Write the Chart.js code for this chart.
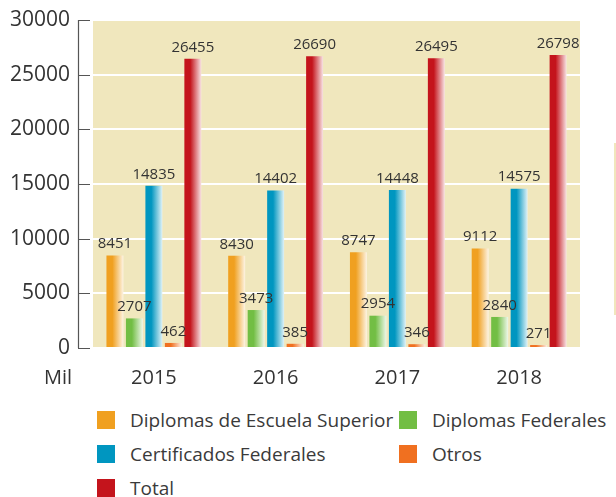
<!DOCTYPE html>
<html>
<head>
<meta charset="utf-8">
<script src="https://cdn.jsdelivr.net/npm/chart.js@4"></script>
<style>
  body { margin: 0; background: #fff; font-family: "Open Sans", sans-serif; }
  #wrap { position: relative; width: 616px; height: 497px; overflow: hidden; }
  #chart { position: absolute; left: 0; top: 0; }
  .leg { position: absolute; font-size: 19px; color: #3a3a3a; line-height: 20px; white-space: nowrap; }
  .leg span { position: absolute; left: -33px; top: 1px; width: 18px; height: 18px; }
  #strip { position: absolute; left: 614px; top: 143px; width: 4px; height: 172px; background: #f0e7bd; }
</style>
</head>
<body>
<div id="wrap">
  <canvas id="chart" width="616" height="400"></canvas>
  <div id="legend"></div>
  <div id="strip"></div>
</div>
<script>
var anios = ['2015', '2016', '2017', '2018'];
var series = ['Diplomas de Escuela Superior', 'Diplomas Federales', 'Certificados Federales', 'Otros', 'Total'];
var colores = ['#f0a020', '#72be44', '#0096c0', '#f07020', '#c4141c'];

var diplomasSuperior = [8451, 8430, 8747, 9112];
var diplomasFederales = [2707, 3473, 2954, 2840];
var certificados = [14835, 14402, 14448, 14575];
var otros = [462, 385, 346, 271];
var total = [26455, 26690, 26495, 26798];

var valores = [diplomasSuperior, diplomasFederales, certificados, otros, total];
var ticksY = [0, 5000, 10000, 15000, 20000, 25000, 30000];

var CAT_PCT = 0.8, BAR_PCT = 0.87;

function aclarar(hex, t) {
    var r = parseInt(hex.substr(1, 2), 16), g = parseInt(hex.substr(3, 2), 16), b = parseInt(hex.substr(5, 2), 16);
    r = Math.round(r + (255 - r) * t); g = Math.round(g + (255 - g) * t); b = Math.round(b + (255 - b) * t);
    return 'rgb(' + r + ',' + g + ',' + b + ')';
}

// gradiente por barra, calculado a partir de la escala x
function degradado(context) {
    var chart = context.chart;
    var base = colores[context.datasetIndex];
    var sx = chart.scales.x;
    if (!sx || context.dataIndex === undefined) return base;
    var catW = sx.width / anios.length;
    var slot = catW * CAT_PCT / series.length;
    var barW = slot * BAR_PCT;
    var centro = sx.getPixelForValue(context.dataIndex) - catW * CAT_PCT / 2 + (context.datasetIndex + 0.5) * slot;
    var x0 = centro - barW / 2, x1 = centro + barW / 2;
    if (!isFinite(x0)) return base;
    var g = chart.ctx.createLinearGradient(x0, 0, x1, 0);
    g.addColorStop(0, base);
    g.addColorStop(0.35, base);
    g.addColorStop(1, aclarar(base, 0.88));
    return g;
}

var fondo = {
    id: 'fondo',
    beforeDraw: function (chart) {
        var a = chart.chartArea, ctx = chart.ctx;
        ctx.save();
        ctx.fillStyle = '#f0e7bd';
        ctx.fillRect(a.left, a.top, a.right - a.left, a.bottom - a.top);
        ctx.restore();
    },
    afterDraw: function (chart) {
        var a = chart.chartArea, ctx = chart.ctx, sy = chart.scales.y;
        ctx.save();
        ctx.strokeStyle = '#555';
        ctx.lineWidth = 1.2;
        ctx.beginPath();
        ctx.moveTo(78.5, sy.getPixelForValue(30000));
        ctx.lineTo(78.5, sy.getPixelForValue(0));
        ticksY.forEach(function (v) {
            var y = Math.round(sy.getPixelForValue(v)) + 0.5;
            ctx.moveTo(78, y);
            ctx.lineTo(90, y);
        });
        ctx.stroke();
        ctx.fillStyle = '#333';
        ctx.font = '20px "Open Sans"';
        ctx.textBaseline = 'middle';
        ctx.textAlign = 'left';
        ctx.fillText('Mil', 44, 378);
        // etiquetas de valor
        ctx.font = '15px "Open Sans"';
        ctx.textAlign = 'center';
        ctx.textBaseline = 'bottom';
        ctx.fillStyle = '#333';
        chart.data.datasets.forEach(function (ds, i) {
            chart.getDatasetMeta(i).data.forEach(function (bar, j) {
                ctx.fillText(String(ds.data[j]), bar.x, bar.y - 4);
            });
        });
        ctx.restore();
    }
};

new Chart(document.getElementById('chart'), {
    type: 'bar',
    data: {
        labels: anios,
        datasets: series.map(function (s, i) {
            return {
                label: s,
                data: valores[i],
                backgroundColor: degradado,
                borderWidth: 0,
                categoryPercentage: CAT_PCT,
                barPercentage: BAR_PCT
            };
        })
    },
    options: {
        responsive: false,
        animation: false,
        layout: { padding: { top: 20, right: 36 } },
        plugins: {
            legend: { display: false },
            tooltip: { enabled: false }
        },
        scales: {
            x: {
                grid: { display: false, drawTicks: false },
                border: { display: false },
                ticks: { color: '#333', font: { family: 'Open Sans', size: 20 }, padding: 18 },
                afterFit: function (s) { s.height = 52; s.paddingLeft = 0; s.paddingRight = 0; }
            },
            y: {
                min: 0,
                max: 30000,
                afterBuildTicks: function (s) { s.ticks = ticksY.map(function (v) { return { value: v }; }); },
                grid: { color: '#ffffff', lineWidth: 2, drawTicks: false },
                border: { display: false },
                ticks: {
                    color: '#333',
                    font: { family: 'Open Sans', size: 21 },
                    padding: 23,
                    callback: function (v) { return String(v); }
                },
                afterFit: function (s) { s.width = 93; s.paddingTop = 0; s.paddingBottom = 0; }
            }
        }
    },
    plugins: [fondo]
});

// leyenda en dos columnas
var pos = [[130, 410], [432, 410], [130, 444], [432, 444], [130, 478]];
var leyenda = document.getElementById('legend');
series.forEach(function (s, i) {
    var d = document.createElement('div');
    d.className = 'leg';
    d.style.left = pos[i][0] + 'px';
    d.style.top = pos[i][1] + 'px';
    d.innerHTML = '<span style="background:' + colores[i] + '"></span>' + s;
    leyenda.appendChild(d);
});
</script>
</body>
</html>
